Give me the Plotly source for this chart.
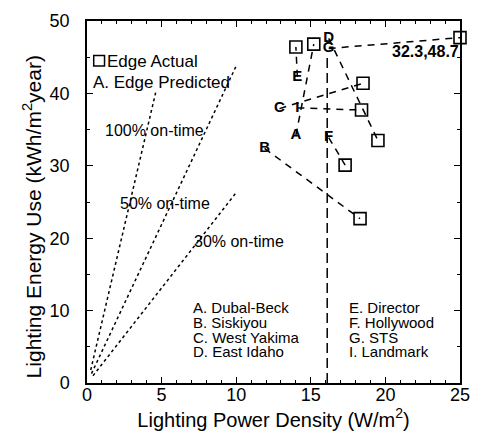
import plotly.graph_objects as go

# ---- data ----
letters = ["A", "B", "C", "D", "E", "F", "G", "I"]
sites = ["Dubal-Beck", "Siskiyou", "West Yakima", "East Idaho",
         "Director", "Hollywood", "STS", "Landmark"]
pred_lpd = [14.0, 11.9, 12.9, 16.2, 14.1, 16.2, 16.2, 14.1]
pred_energy = [34.2, 32.4, 37.9, 47.6, 42.3, 33.9, 46.2, 38.0]
act_lpd = [15.2, 18.3, 18.5, 19.5, 14.0, 17.3, 25.0, 18.4]
act_energy = [46.8, 22.7, 41.4, 33.5, 46.4, 30.1, 47.7, 37.7]
offscale_label = "32.3,48.7"

ontime_labels = ["100% on-time", "50% on-time", "30% on-time"]
ontime_x = [[0.25, 4.6], [0.3, 10.0], [0.4, 10.0]]
ontime_y = [[1.8, 40.1], [1.3, 43.8], [1.0, 26.3]]

ref_lpd = 16.1
ref_energy = [0, 45.5]

FONT = "Liberation Sans, Arial, Helvetica, sans-serif"
fig = go.Figure()

# on-time reference lines
for xs, ys in zip(ontime_x, ontime_y):
    fig.add_trace(go.Scatter(x=xs, y=ys, mode="lines",
                             line=dict(color="black", width=1.5, dash="3px,3px"),
                             showlegend=False, hoverinfo="skip"))

# vertical reference line
fig.add_trace(go.Scatter(x=[ref_lpd, ref_lpd], y=ref_energy, mode="lines",
                         line=dict(color="black", width=1.5, dash="10px,5px"),
                         showlegend=False, hoverinfo="skip"))

# predicted-actual connectors
cx, cy = [], []
for px_, py_, ax_, ay_ in zip(pred_lpd, pred_energy, act_lpd, act_energy):
    cx += [px_, ax_, None]
    cy += [py_, ay_, None]
fig.add_trace(go.Scatter(x=cx, y=cy, mode="lines",
                         line=dict(color="black", width=1.5, dash="7px,6px"),
                         showlegend=False, hoverinfo="skip"))

# actual squares
fig.add_trace(go.Scatter(x=act_lpd, y=act_energy, mode="markers",
                         marker=dict(symbol="square-open", size=12, color="black",
                                     line=dict(width=1.6, color="black")),
                         cliponaxis=False, showlegend=False))

# predicted letters
fig.add_trace(go.Scatter(x=pred_lpd, y=pred_energy, mode="text", text=letters,
                         textposition="middle center",
                         textfont=dict(family=FONT, size=15, color="black", weight="bold"),
                         showlegend=False))

ann = []
# off-scale label
ann.append(dict(x=22.7, y=45.8, text=offscale_label, showarrow=False,
                xanchor="center", yanchor="middle",
                font=dict(family=FONT, size=16, color="black", weight="bold")))
# on-time labels
for t, (x, y) in zip(ontime_labels, [(4.5, 34.9), (5.2, 24.8), (10.16, 19.6)]):
    ann.append(dict(x=x, y=y, text=t, showarrow=False, xanchor="center", yanchor="middle",
                    font=dict(family=FONT, size=16, color="black")))
# site list
rows_y = [10.4, 8.3, 6.3, 4.3]
for i, (l, s) in enumerate(zip(letters, sites)):
    col_x = 6.95 if i < 4 else 17.4
    ann.append(dict(x=col_x, y=rows_y[i % 4], text=f"{l}. {s}", showarrow=False,
                    xanchor="left", yanchor="middle",
                    font=dict(family=FONT, size=15, color="black")))
# legend
ann.append(dict(xref="paper", yref="paper", x=0.049, y=0.888, text="Edge Actual",
                showarrow=False, xanchor="left", yanchor="middle",
                font=dict(family=FONT, size=17, color="black")))
ann.append(dict(xref="paper", yref="paper", x=0.012, y=0.831, text="A. Edge Predicted",
                showarrow=False, xanchor="left", yanchor="middle",
                font=dict(family=FONT, size=17, color="black")))
# y-axis title
ann.append(dict(xref="paper", yref="paper", x=-0.145, y=0.46,
                text="Lighting Energy Use (kWh/m<sup>2</sup>year)", textangle=-90,
                showarrow=False, xanchor="center", yanchor="middle",
                font=dict(family=FONT, size=21, color="black")))

fig.update_layout(
    width=481, height=444,
    margin=dict(l=87, r=11, t=17, b=61),
    paper_bgcolor="white", plot_bgcolor="white",
    font=dict(family=FONT, color="black"),
    annotations=ann,
    shapes=[dict(type="rect", xref="paper", yref="paper",
                 x0=0.018, x1=0.047, y0=0.876, y1=0.905,
                 line=dict(color="black", width=1.5))],
)

axis_common = dict(showgrid=False, zeroline=False, showline=True, linecolor="black",
                   linewidth=1.5, mirror="ticks", ticks="inside", ticklen=6,
                   tickwidth=1.2, tickcolor="black",
                   tickfont=dict(family=FONT, size=18, color="black"))
fig.update_xaxes(range=[0, 25], dtick=5, tick0=0,
                 minor=dict(dtick=1, ticklen=3, ticks="inside", tickcolor="black"),
                 title=dict(text="Lighting Power Density (W/m<sup>2</sup>)",
                            font=dict(family=FONT, size=20, color="black"), standoff=4),
                 ticklabelstandoff=-5, **axis_common)
fig.update_yaxes(range=[0, 50], dtick=10, tick0=0,
                 minor=dict(dtick=5, ticklen=3, ticks="inside", tickcolor="black"),
                 ticklabelstandoff=12, **axis_common)

fig.write_html("out.html")
